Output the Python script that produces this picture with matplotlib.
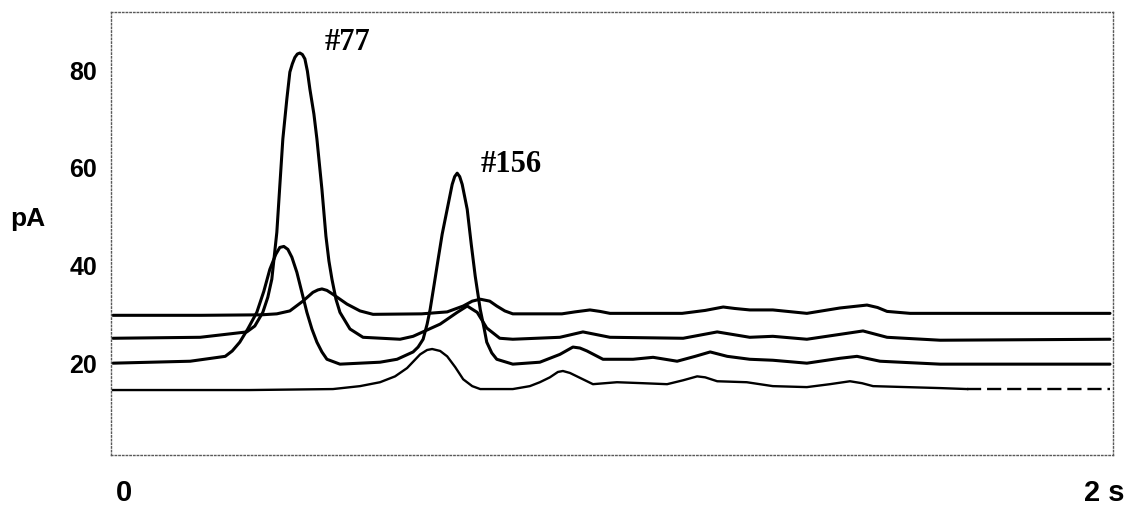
import numpy as np
import matplotlib
matplotlib.use("Agg")
import matplotlib.pyplot as plt

# time (s) and current (pA)
t_a = [0.004, 0.18, 0.30, 0.331, 0.357, 0.383, 0.403, 0.413, 0.421, 0.431, 0.443, 0.471, 0.497, 0.523,
       0.62, 0.671, 0.703, 0.721, 0.737, 0.756, 0.770, 0.786, 0.802, 0.86, 0.90, 0.926,
       0.956, 0.976, 0.996, 1.08, 1.14, 1.186, 1.222, 1.245, 1.275, 1.321, 1.389, 1.455,
       1.509, 1.53, 1.549, 1.595, 1.655, 1.78, 1.994]
i_a = [29.6, 29.6, 29.7, 29.9, 30.5, 32.5, 34.3, 34.8, 35.0, 34.7, 33.9, 31.9, 30.5, 29.8,
       29.9, 30.3, 31.5, 32.5, 32.9, 32.5, 31.5, 30.5, 29.9, 29.9, 29.9, 30.3,
       30.7, 30.4, 30.0, 30.0, 30.0, 30.6, 31.3, 31.0, 30.7, 30.7, 30.0, 31.1,
       31.7, 31.2, 30.4, 30.0, 30.0, 30.0, 30.0]

t_b = [0.004, 0.178, 0.271, 0.287, 0.303, 0.313, 0.321, 0.331, 0.337, 0.343, 0.351, 0.357,
       0.362, 0.367, 0.372, 0.377, 0.382, 0.387, 0.392, 0.397, 0.405, 0.411, 0.421, 0.429,
       0.435, 0.441, 0.449, 0.457, 0.477, 0.503, 0.577, 0.603, 0.657, 0.691, 0.711, 0.731,
       0.750, 0.776, 0.802, 0.896, 0.942, 0.996, 1.142, 1.210, 1.275, 1.321, 1.389, 1.455,
       1.501, 1.549, 1.655, 1.994]
i_b = [24.9, 25.1, 26.2, 27.4, 30.2, 33.3, 37.0, 46.6, 56.2, 65.7, 73.9, 79.4,
       81.1, 82.4, 83.1, 83.3, 83.0, 82.1, 79.6, 75.9, 70.8, 65.7, 55.4, 45.8,
       40.7, 37.0, 32.9, 30.2, 26.8, 25.1, 24.7, 25.3, 27.8, 30.2, 31.5, 30.2,
       27.0, 24.9, 24.7, 25.1, 26.2, 25.1, 24.9, 26.2, 25.1, 25.3, 24.7, 25.7,
       26.4, 25.1, 24.5, 24.7]

t_c = [0.004, 0.158, 0.228, 0.242, 0.257, 0.273, 0.291, 0.305, 0.317, 0.329, 0.337, 0.345,
       0.353, 0.361, 0.371, 0.381, 0.391, 0.401, 0.411, 0.421, 0.431, 0.457, 0.537, 0.571,
       0.603, 0.613, 0.623, 0.631, 0.637, 0.645, 0.653, 0.661, 0.671, 0.681, 0.686, 0.691,
       0.696, 0.701, 0.711, 0.719, 0.727, 0.737, 0.745, 0.750, 0.760, 0.770, 0.802, 0.856,
       0.896, 0.922, 0.936, 0.950, 0.982, 1.042, 1.082, 1.130, 1.166, 1.196, 1.230, 1.275,
       1.321, 1.389, 1.455, 1.489, 1.535, 1.655, 1.994]
i_c = [19.8, 20.2, 21.2, 22.3, 24.1, 26.8, 30.2, 34.5, 39.0, 42.1, 43.5, 43.7,
       43.1, 41.5, 38.4, 34.3, 30.2, 26.8, 24.1, 22.1, 20.6, 19.6, 20.0, 20.6,
       22.1, 23.1, 24.7, 27.8, 30.8, 35.9, 41.1, 46.2, 51.3, 56.4, 58.0, 58.7,
       58.0, 56.4, 51.3, 44.2, 37.6, 30.8, 26.8, 24.1, 21.9, 20.6, 19.6, 20.0,
       21.6, 23.1, 22.9, 22.3, 20.6, 20.6, 21.0, 20.2, 21.2, 22.1, 21.2, 20.6,
       20.4, 19.8, 20.8, 21.2, 20.2, 19.6, 19.6]

t_d = [0.004, 0.277, 0.443, 0.497, 0.537, 0.567, 0.591, 0.617, 0.631, 0.641, 0.657, 0.671,
       0.687, 0.703, 0.721, 0.737, 0.802, 0.836, 0.856, 0.876, 0.892, 0.902, 0.916, 0.930,
       0.962, 1.010, 1.062, 1.110, 1.142, 1.170, 1.186, 1.210, 1.269, 1.321, 1.389, 1.435,
       1.475, 1.499, 1.521, 1.655, 1.709, 1.994]
i_d = [14.3, 14.3, 14.5, 15.1, 15.9, 17.1, 18.8, 21.6, 22.5, 22.7, 22.3, 21.2,
       19.0, 16.5, 15.1, 14.5, 14.5, 15.1, 15.9, 16.9, 18.0, 18.2, 17.8, 17.1,
       15.5, 15.9, 15.7, 15.5, 16.3, 17.1, 16.9, 16.1, 15.9, 15.1, 14.9, 15.5,
       16.1, 15.7, 15.1, 14.7, 14.5, 14.5]

y_ticks = [20, 40, 60, 80]
peak_labels = ["#77", "#156"]

fig = plt.figure(figsize=(11.27, 5.06), dpi=100)
ax = fig.add_axes([111 / 1127, 1 - 456 / 506, 1002 / 1127, 443 / 506])

for t, i in [(t_a, i_a), (t_b, i_b), (t_c, i_c)]:
    ax.plot(t, i, color="black", lw=2.2, solid_joinstyle="round", solid_capstyle="round")

# last trace goes dashed near the end
td = np.array(t_d)
idd = np.array(i_d)
solid = td <= 1.71
ax.plot(td[solid], idd[solid], color="black", lw=1.7, solid_joinstyle="round")
ax.plot(td[td >= 1.709], idd[td >= 1.709], color="black", lw=1.7, linestyle=(0, (6, 2.5)))

ax.set_xlim(0, 2)
ax.set_ylim(1.0, 91.7)

for s in ax.spines.values():
    s.set_linestyle(":")
    s.set_linewidth(1.0)
    s.set_color("0.35")

ax.set_xticks([])
ax.set_yticks(y_ticks)
ax.set_yticklabels([str(v) for v in y_ticks], fontsize=18, fontweight="bold",
                   family="Liberation Sans")
ax.tick_params(axis="y", length=0, pad=10)

lab = dict(fontsize=21, fontweight="bold", family="Liberation Sans")
fig.text(124 / 1127, 1 - 493 / 506, "0", ha="center", va="center", **lab)
fig.text(1124 / 1127, 1 - 493 / 506, "2 s", ha="right", va="center", **lab)
fig.text(10 / 1127, 1 - 219 / 506, "pA", ha="left", va="center", fontsize=19,
         fontweight="bold", family="Liberation Sans")

ann = dict(fontsize=22, fontweight="bold", family="Liberation Serif", va="baseline")
ax.text(0.427, 84.1, peak_labels[0], **ann)
ax.text(0.737, 59.1, peak_labels[1], **ann)

fig.savefig("out.png", dpi=100)
